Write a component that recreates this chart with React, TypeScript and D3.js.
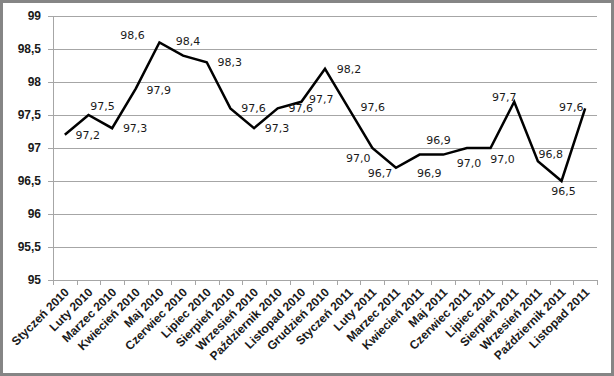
import React from "react";
import * as d3 from "d3";

const categories = [
  "Styczeń 2010", "Luty 2010", "Marzec 2010", "Kwiecień 2010", "Maj 2010",
  "Czerwiec 2010", "Lipiec 2010", "Sierpień 2010", "Wrzesień 2010", "Październik 2010",
  "Listopad 2010", "Grudzień 2010", "Styczeń 2011", "Luty 2011", "Marzec 2011",
  "Kwiecień 2011", "Maj 2011", "Czerwiec 2011", "Lipiec 2011", "Sierpień 2011",
  "Wrzesień 2011", "Październik 2011", "Listopad 2011",
];

const values = [
  97.2, 97.5, 97.3, 97.9, 98.6, 98.4, 98.3, 97.6, 97.3, 97.6, 97.7, 98.2,
  97.6, 97.0, 96.7, 96.9, 96.9, 97.0, 97.0, 97.7, 96.8, 96.5, 97.6,
];

const yTicks = [95, 95.5, 96, 96.5, 97, 97.5, 98, 98.5, 99];

// label placement offsets (dx, dy) relative to each point, in px
const labelOffsets: [number, number][] = [
  [23, 0], [14, -9], [23, 0], [23, 2], [-27, -7], [5, -14], [23, 0], [23, 0],
  [23, 0], [23, 0], [20, -3], [24, 0], [24, -1], [-14, 10], [-16, 5], [19, -14],
  [-14, 19], [2, 15], [12, 11], [-10, -5], [13, -7], [2, 10], [-14, -1],
];

const W = 614;
const H = 376;
const left = 53;
const right = 597;
const top = 16;
const bottom = 280;

const fmt = (v: number) => String(v).replace(".", ",");
const fmt1 = (v: number) => v.toFixed(1).replace(".", ",");

export default function App() {
  const x = d3.scaleBand<string>().domain(categories).range([left, right]).padding(0);
  const y = d3.scaleLinear().domain([95, 99]).range([bottom, top]);
  const cx = (i: number) => (x(categories[i]) as number) + x.bandwidth() / 2;

  const line = d3
    .line<number>()
    .x((_, i) => cx(i))
    .y((d) => y(d));

  const boundaries = categories.map((c) => x(c) as number).concat([right]);

  return (
    <svg width={W} height={H} style={{ display: "block", position: "absolute", left: 0, top: 0 }}>
      <rect x={0} y={0} width={W} height={H} fill="#ffffff" />
      <rect x={1.5} y={1.5} width={W - 3} height={H - 3} fill="none" stroke="#858585" strokeWidth={3} />
      {/* gridlines */}
      {yTicks.map((t) => (
        <line key={"g" + t} x1={left - 5} x2={right} y1={Math.round(y(t)) + 0.5} y2={Math.round(y(t)) + 0.5}
          stroke="#a6a6a6" strokeWidth={1} />
      ))}
      {/* y axis line */}
      <line x1={left + 0.5} x2={left + 0.5} y1={top} y2={bottom + 0.5} stroke="#a6a6a6" strokeWidth={1} />
      {/* x ticks */}
      {boundaries.map((b, i) => (
        <line key={"xt" + i} x1={Math.round(b) + 0.5} x2={Math.round(b) + 0.5} y1={bottom} y2={bottom + 5}
          stroke="#a6a6a6" strokeWidth={1} />
      ))}
      {/* y labels */}
      {yTicks.map((t) => (
        <text key={"yl" + t} x={41} y={y(t)} dy="0.35em" textAnchor="end"
          fontFamily="'Liberation Sans', Arial, sans-serif" fontWeight="bold" fontSize={12} fill="#1a1a1a">
          {fmt(t)}
        </text>
      ))}
      {/* x labels */}
      {categories.map((c, i) => (
        <text key={"xl" + i} transform={`translate(${cx(i) + 2},${bottom + 10}) rotate(-45)`}
          textAnchor="end" dy="0.35em"
          fontFamily="'Liberation Sans', Arial, sans-serif" fontWeight="bold" fontSize={12} fill="#1a1a1a">
          {c}
        </text>
      ))}
      {/* line */}
      <path d={line(values) as string} fill="none" stroke="#000" strokeWidth={2.5} strokeLinejoin="miter" />
      {/* data labels */}
      {values.map((v, i) => (
        <text key={"dl" + i} x={cx(i) + labelOffsets[i][0]} y={y(v) + labelOffsets[i][1]} dy="0.35em"
          textAnchor="middle" fontFamily="'DejaVu Sans', sans-serif" fontSize={11} fill="#1a1a1a">
          {fmt1(v)}
        </text>
      ))}
    </svg>
  );
}
